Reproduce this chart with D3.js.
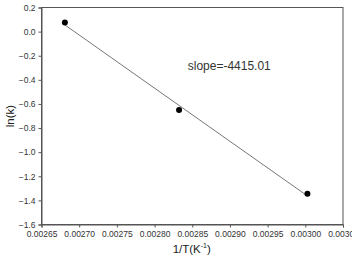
<!DOCTYPE html>
<html>
<head>
<meta charset="utf-8">
<script src="https://cdn.jsdelivr.net/npm/d3@7"></script>
<style>
  body { margin: 0; background: #fff; }
  svg { display: block; font-family: "Liberation Sans", Arial, sans-serif; }
</style>
</head>
<body>
<svg id="chart" width="352" height="262"></svg>
<script>
// Arrhenius plot data
const invT = [0.002681, 0.0028325, 0.0030028];
const lnK = [0.076, -0.651, -1.345];
const xTicks = [0.00265, 0.00270, 0.00275, 0.00280, 0.00285, 0.00290, 0.00295, 0.00300, 0.00305];
const yTicks = [0.2, 0.0, -0.2, -0.4, -0.6, -0.8, -1.0, -1.2, -1.4, -1.6];
const slopeLabel = 'slope=-4415.01';

const svg = d3.select('#chart');
const margin = { top: 7.5, right: 9, bottom: 37.5, left: 41.5 };
const width = 352, height = 262;
const plotW = width - margin.left - margin.right;
const plotH = height - margin.top - margin.bottom;

const x = d3.scaleLinear().domain([0.00265, 0.00305]).range([0, plotW]);
const y = d3.scaleLinear().domain([-1.6, 0.2]).range([plotH, 0]);

const g = svg.append('g').attr('transform', `translate(${margin.left},${margin.top})`);

// frame
g.append('rect')
    .attr('width', plotW).attr('height', plotH)
    .attr('fill', 'none').attr('stroke', '#555').attr('stroke-width', 1);

const xAxis = g.append('g')
    .attr('transform', `translate(0,${plotH})`)
    .call(d3.axisBottom(x).tickValues(xTicks).tickFormat(d3.format('.5f')).tickSize(3).tickPadding(3));
const yAxis = g.append('g')
    .call(d3.axisLeft(y).tickValues(yTicks).tickFormat(d3.format('.1f')).tickSize(3).tickPadding(3));

[xAxis, yAxis].forEach(a => {
    a.select('.domain').attr('stroke', '#555');
    a.selectAll('.tick line').attr('stroke', '#555');
    a.selectAll('.tick text')
        .attr('fill', '#333')
        .style('font-size', '8.5px')
        .style('font-family', '"Liberation Sans", Arial, sans-serif');
});

// least squares fit line
const mx = d3.mean(invT), my = d3.mean(lnK);
const b = d3.sum(invT.map((v, i) => (v - mx) * (lnK[i] - my))) / d3.sum(invT.map(v => (v - mx) ** 2));
const a0 = my - b * mx;
const xExt = d3.extent(invT);
g.append('line')
    .attr('x1', x(xExt[0])).attr('y1', y(a0 + b * xExt[0]))
    .attr('x2', x(xExt[1])).attr('y2', y(a0 + b * xExt[1]))
    .attr('stroke', '#777').attr('stroke-width', 1);

g.selectAll('circle.pt')
    .data(invT)
    .enter().append('circle')
    .attr('class', 'pt')
    .attr('cx', d => x(d))
    .attr('cy', (d, i) => y(lnK[i]))
    .attr('r', 3)
    .attr('fill', '#000');

g.append('text')
    .attr('x', x(0.002844))
    .attr('y', y(-0.322))
    .attr('fill', '#333')
    .style('font-size', '12px')
    .text(slopeLabel);

// axis titles
svg.append('text')
    .attr('x', margin.left + plotW / 2 - 0.5)
    .attr('y', 253)
    .attr('text-anchor', 'middle')
    .attr('fill', '#222')
    .style('font-size', '11.5px')
    .html('1/T(K<tspan dy="-5" style="font-size:7px">-1</tspan><tspan dy="5">)</tspan>');

svg.append('text')
    .attr('transform', `translate(14,${margin.top + plotH / 2}) rotate(-90)`)
    .attr('text-anchor', 'middle')
    .attr('fill', '#222')
    .style('font-size', '11.5px')
    .text('ln(k)');
</script>
</body>
</html>
